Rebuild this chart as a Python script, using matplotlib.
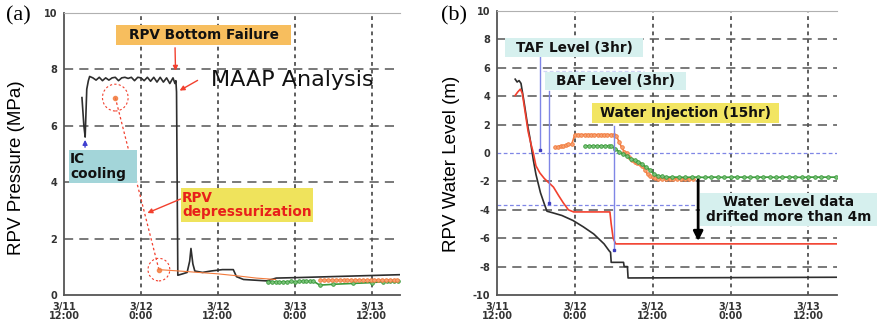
import matplotlib
matplotlib.use("Agg")
from matplotlib import pyplot as plt
from matplotlib.patches import Rectangle, Ellipse

W, H = 878, 325

# hours after 3/11 12:00
xtick_h = [0, 12, 24, 36, 48]
xtick_lbl = ['3/11\n12:00', '3/12\n0:00', '3/12\n12:00', '3/13\n0:00', '3/13\n12:00']

# ---------- (a) RPV pressure ----------
pa_t = [2.8, 3.1, 3.3, 3.55, 3.8, 4.0, 4.5, 5.0, 5.5, 6.0, 6.5, 7.0, 7.5, 8.0, 8.5, 9.0,
        9.5, 10.0, 10.5, 11.0, 11.5, 12.0, 12.5, 13.0, 13.5, 14.0, 14.5, 15.0, 15.5,
        16.0, 16.5, 17.0, 17.3, 17.45, 17.55, 17.75, 18.5, 19.2, 19.6, 19.8, 20.1,
        20.4, 21.6, 22.9, 24.7, 26.4, 26.9, 28.0, 31.6, 33.1, 36.8, 52.4]
pa_p = [7.0, 6.0, 5.6, 7.3, 7.6, 7.75, 7.7, 7.62, 7.72, 7.6, 7.7, 7.62, 7.7, 7.72, 7.6, 7.7,
        7.72, 7.68, 7.72, 7.6, 7.72, 7.7, 7.6, 7.72, 7.58, 7.72, 7.55, 7.72, 7.55,
        7.7, 7.5, 7.7, 7.5, 7.6, 7.2, 0.7, 0.75, 0.8, 1.2, 1.65, 1.1,
        0.85, 0.8, 0.85, 0.9, 0.9, 0.65, 0.55, 0.5, 0.6, 0.62, 0.72]

depress_t = [8.0, 14.8]
depress_p = [7.0, 0.9]

meas_a_t = [14.8, 18.0, 21.0, 24.0, 27.0, 30.0, 33.0]
meas_a_p = [0.9, 0.85, 0.8, 0.75, 0.68, 0.6, 0.55]

orange_a_t = [40.0, 40.6, 41.2, 41.8, 42.4, 43.0, 43.6, 44.2, 44.8, 45.4, 46.0, 46.6,
              47.2, 47.8, 48.4, 49.0, 49.6, 50.2, 50.8, 51.4, 52.0]
orange_a_p = [0.52, 0.52, 0.53, 0.52, 0.52, 0.53, 0.52, 0.53, 0.52, 0.52, 0.53, 0.53,
              0.52, 0.53, 0.52, 0.53, 0.52, 0.52, 0.53, 0.52, 0.52]

green_a_t = [31.8, 32.4, 33.0, 33.6, 34.2, 34.8, 35.4, 36.0, 36.6, 37.2, 37.8, 38.4,
             38.8, 39.9, 42.0, 45.0, 48.0, 49.7, 50.3, 50.9, 51.5, 52.1]
green_a_p = [0.47, 0.46, 0.47, 0.46, 0.47, 0.47, 0.48, 0.47, 0.48, 0.49, 0.48, 0.49,
             0.5, 0.35, 0.38, 0.41, 0.44, 0.47, 0.48, 0.48, 0.49, 0.48]

# ---------- (b) RPV water level ----------
lb_t = [2.8, 3.1, 3.4, 3.7, 4.2, 4.7, 5.1, 5.6, 6.0, 6.7, 7.3, 7.7, 8.5, 10.0, 11.7,
        13.3, 14.9, 16.5, 17.3, 17.5, 17.6, 19.5, 19.6, 20.1, 20.2, 52.5]
lb_y = [5.2, 5.0, 5.1, 4.9, 3.5, 2.0, 1.0, -0.5, -1.5, -2.8, -3.6, -4.1, -4.2, -4.4, -4.75,
        -5.2, -5.7, -6.4, -6.9, -7.0, -7.7, -7.7, -8.0, -8.0, -8.8, -8.75]

red_t = [2.8, 3.2, 3.6, 3.9, 4.3, 4.8, 5.2, 5.6, 6.0, 6.6, 7.3, 8.0, 8.7, 9.5, 10.2,
         11.0, 11.8, 17.4, 17.6, 17.9, 18.3, 52.5]
red_y = [4.05, 4.3, 4.5, 4.2, 3.0, 1.5, 0.7, 0.0, -0.9, -1.4, -1.8, -2.1, -2.4, -3.0, -3.5,
         -4.0, -4.15, -4.15, -5.0, -6.0, -6.4, -6.4]

orange_b_t = [9.0, 9.4, 9.8, 10.2, 10.6, 11.0, 11.5, 12.0, 12.5, 13.0, 13.5, 14.0, 14.5,
              15.0, 15.5, 16.0, 16.5, 17.0, 17.5, 18.0, 18.4, 18.8, 19.2, 19.6, 20.0,
              20.4, 20.8, 21.2, 21.6, 22.0, 22.4, 22.8, 23.2, 23.6, 24.0, 24.4, 24.8,
              25.4, 26.0, 26.6, 27.2, 27.8, 28.4, 29.0, 29.6, 30.2]
orange_b_y = [0.4, 0.45, 0.5, 0.5, 0.55, 0.6, 0.6, 1.3, 1.3, 1.3, 1.3, 1.3, 1.3,
              1.3, 1.3, 1.3, 1.3, 1.3, 1.3, 1.3, 1.2, 0.8, 0.4, 0.1, 0.0,
              -0.3, -0.5, -0.6, -0.7, -0.8, -0.9, -1.2, -1.5, -1.6, -1.7, -1.75, -1.8,
              -1.8, -1.8, -1.8, -1.8, -1.8, -1.8, -1.8, -1.8, -1.8]

green_b_t = [13.6, 14.2, 14.8, 15.4, 16.0, 16.6, 17.2, 17.6, 18.2, 18.8, 19.4, 20.0, 20.6,
             21.2, 21.8, 22.4, 23.0, 23.6, 24.2, 24.8, 25.4, 26.0, 27.0, 28.0, 29.0,
             30.0, 31.0, 32.0, 33.0, 34.0, 35.0, 36.0, 37.0, 38.0, 39.0, 40.0, 41.0,
             42.0, 43.0, 44.0, 45.0, 46.0, 47.0, 48.0, 49.0, 50.0, 51.0, 52.2]
green_b_y = [0.5, 0.5, 0.5, 0.5, 0.5, 0.5, 0.5, 0.5, 0.3, 0.1, -0.1, -0.2, -0.4,
             -0.5, -0.6, -0.8, -1.0, -1.2, -1.5, -1.6, -1.65, -1.7, -1.7, -1.7, -1.72,
             -1.7, -1.7, -1.72, -1.7, -1.7, -1.72, -1.7, -1.7, -1.7, -1.72, -1.7, -1.7,
             -1.7, -1.72, -1.7, -1.7, -1.7, -1.72, -1.7, -1.7, -1.7, -1.7, -1.7]

taf_t, baf_t, inj_t, drift_t = 6.7, 8.0, 18.0, 31.0
baf_level = -3.66

BLACK = '#2e2e2e'
RED = '#f2402e'
ORANGE = '#f27a3c'
GREEN = '#3a9a3a'
BLUE = '#7f86e6'


def fx(x, y):
    return x / W, 1 - y / H


def style_axes(ax, yticks, skip_zero=False):
    ax.set_xlim(0, 52.4)
    ax.set_xticks(xtick_h)
    ax.set_xticklabels(xtick_lbl, fontsize=7, fontweight='bold', color='#333333',
                       linespacing=0.85)
    ax.set_yticks(yticks)
    ax.set_yticklabels([str(v) for v in yticks], fontsize=7, fontweight='bold',
                       color='#333333')
    ax.tick_params(length=0, pad=5)
    for v in xtick_h[1:]:
        ax.axvline(v, color='#333333', lw=1.1, ls=(0, (2.5, 2.5)), zorder=1)
    for v in yticks[1:-1]:
        if skip_zero and v == 0:
            continue
        ax.axhline(v, color='#555555', lw=1.1, ls=(0, (6, 4)), zorder=1)
    for s in ['left', 'bottom']:
        ax.spines[s].set_color('#555555')
        ax.spines[s].set_linewidth(1.3)
    ax.spines['top'].set_color('#b0b0b0')
    ax.spines['right'].set_visible(False)


def box(fig, x0, y0, x1, y1, color, text, tcolor='#111111', ha='center', tx=None):
    fig.patches.append(Rectangle(fx(x0, y1), (x1 - x0) / W, (y1 - y0) / H,
                                 transform=fig.transFigure, facecolor=color,
                                 edgecolor='none', zorder=5))
    if tx is None:
        tx = (x0 + x1) / 2
    fig.text(*fx(tx, (y0 + y1) / 2), text, ha=ha, va='center', fontsize=9.8,
             fontweight='bold', color=tcolor, zorder=6, linespacing=1.05)


fig = plt.figure(figsize=(8.78, 3.25), dpi=100)
lab_font = dict(family='Liberation Sans', fontsize=13.5)
dots = dict(lw=1.2, ms=2.6, mew=0.6, zorder=3)

# ===================== (a) =====================
ax1 = fig.add_axes([64 / W, 1 - 295 / H, 336 / W, 282 / H])
style_axes(ax1, [0, 2, 4, 6, 8, 10])
ax1.set_ylim(0, 10)
ax1.plot(pa_t, pa_p, color=BLACK, lw=1.2, zorder=3)
ax1.plot(depress_t, depress_p, color=RED, lw=0.9, ls=(0, (2, 2)), zorder=3)
ax1.plot(depress_t, depress_p, 'o', color=ORANGE, ms=3, zorder=4, alpha=0.8)
ax1.add_patch(Ellipse((depress_t[0], depress_p[0]), 4.0, 0.95, fill=False,
                      ec=RED, lw=0.8, ls=(0, (2, 2)), zorder=4))
ax1.add_patch(Ellipse((depress_t[1], depress_p[1]), 3.4, 0.8, fill=False,
                      ec=RED, lw=0.8, ls=(0, (2, 2)), zorder=4))
ax1.plot(meas_a_t, meas_a_p, color=ORANGE, lw=0.8, zorder=3)
ax1.plot(green_a_t, green_a_p, '-o', color=GREEN, mfc='#7cc47c', mec=GREEN, **dots)
ax1.plot(orange_a_t, orange_a_p, '-o', color=ORANGE, mfc='#f6a274', mec=ORANGE, **dots)
ax1.set_ylabel('RPV Pressure (MPa)', **lab_font)
ax1.yaxis.set_label_coords(-0.116, 0.45)

fig.text(*fx(6, 16), '(a)', family='Liberation Serif', fontsize=16, va='center')

box(fig, 116, 25, 291, 45, '#f7be5e', 'RPV Bottom Failure')
box(fig, 69, 150, 137, 183, '#a3d5d9', 'IC\ncooling', ha='left', tx=70)
box(fig, 181, 188, 313, 222, '#efe35c', 'RPV\ndepressurization', tcolor='#e8201a',
    ha='left', tx=182)
fig.text(*fx(211, 80), 'MAAP Analysis', fontsize=16, va='center', color='#111111')

arr = dict(arrowstyle='-|>', color=RED, lw=1.0, mutation_scale=7)
ax1.annotate('', xy=(17.4, 7.85), xytext=fx(175, 45), textcoords='figure fraction',
             arrowprops=arr, zorder=6)
ax1.annotate('', xy=(17.65, 7.2), xytext=fx(200, 79), textcoords='figure fraction',
             arrowprops=arr, zorder=6)
ax1.annotate('', xy=(12.6, 2.87), xytext=fx(183, 198), textcoords='figure fraction',
             arrowprops=arr, zorder=6)
ax1.annotate('', xy=(3.3, 5.6), xytext=fx(85, 150), textcoords='figure fraction',
             arrowprops=dict(arrowstyle='-|>', color='#4040d0', lw=1.0,
                             mutation_scale=7), zorder=6)

# ===================== (b) =====================
ax2 = fig.add_axes([497 / W, 1 - 295 / H, 340 / W, 284 / H])
style_axes(ax2, [-10, -8, -6, -4, -2, 0, 2, 4, 6, 8, 10], skip_zero=True)
ax2.set_ylim(-10, 10)
ax2.axhline(0, color=BLUE, lw=0.9, ls=(0, (3, 2)), zorder=2)
ax2.plot([0, drift_t], [baf_level, baf_level], color=BLUE, lw=0.9, ls=(0, (3, 2)),
         zorder=2)
ax2.plot([7.1, 22.6], [5.8, 5.8], color=BLUE, lw=0.9, ls=(0, (3, 2)), alpha=0.35,
         zorder=2)
ax2.plot(lb_t, lb_y, color=BLACK, lw=1.2, zorder=3)
ax2.plot(red_t, red_y, color=RED, lw=1.2, zorder=3)
ax2.plot(orange_b_t, orange_b_y, '-o', color=ORANGE, mfc='#f6a274', mec=ORANGE, **dots)
ax2.plot(green_b_t, green_b_y, '-o', color=GREEN, mfc='#7cc47c', mec=GREEN, **dots)
ax2.set_ylabel('RPV Water Level (m)', **lab_font)
ax2.yaxis.set_label_coords(-0.109, 0.46)

fig.text(*fx(441, 16), '(b)', family='Liberation Serif', fontsize=16, va='center')

box(fig, 505, 38, 643, 57, '#d6f0ee', 'TAF Level (3hr)')
box(fig, 545, 72, 686, 90, '#d6f0ee', 'BAF Level (3hr)')
box(fig, 592, 103, 779, 123, '#f2e562', 'Water Injection (15hr)')
box(fig, 700, 193, 878, 226, '#d6f0ee', 'Water Level data\ndrifted more than 4m')

ax2.plot([taf_t, taf_t], [6.8, 0.2], color=BLUE, lw=1.0, zorder=5)
ax2.plot([taf_t], [0.2], 's', color='#4040c0', ms=2, zorder=5)
ax2.plot([baf_t, baf_t], [4.4, -3.5], color=BLUE, lw=1.0, zorder=5)
ax2.plot([baf_t], [-3.5], 's', color='#4040c0', ms=2, zorder=5)
ax2.plot([inj_t, inj_t], [1.9, -6.8], color=BLUE, lw=1.0, zorder=5)
ax2.plot([inj_t], [-6.8], 's', color='#4040c0', ms=2, zorder=5)
ax2.annotate('', xy=(drift_t, red_y[-1]), xytext=(drift_t, green_b_y[-1]),
             arrowprops=dict(arrowstyle='-|>', color='black', lw=2.0,
                             mutation_scale=14), zorder=6)

plt.savefig('out.png', dpi=100)
